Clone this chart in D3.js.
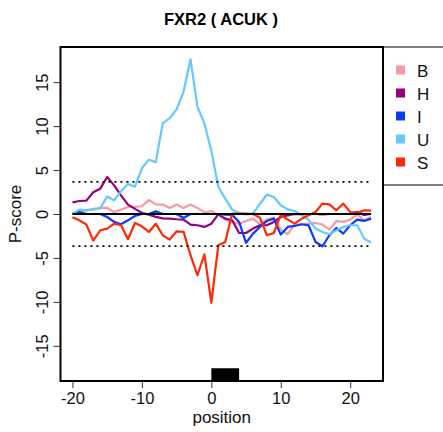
<!DOCTYPE html>
<html>
<head>
<meta charset="utf-8">
<script src="https://cdn.jsdelivr.net/npm/d3@7"></script>
<style>
  html, body { margin: 0; padding: 0; background: #fff; }
  svg { display: block; font-family: "Liberation Sans", Arial, sans-serif; }
</style>
</head>
<body>
<svg id="chart" width="443" height="432"></svg>
<script>
// Positions relative to the motif start
const positions = d3.range(-20, 24);

// P-score per group
const seriesB = [0, 0.34, 0.42, 0.5, 0.69, 0.69, 0.23, 0.5, 0.8, 0.8, 0.88, 1.6, 1.1, 1.07, 0.69, 1.07,
  0.69, 1.07, 0.69, 0.19, 0.34, -0.08, -0.6, -0.9, -1.1, -0.79, -0.53, -1.17, -0.64, -0.41, -1.78,
  -2.3, -1.17, -1.2, -1.1, -1.02, -1.2, -1.78, -0.79, -0.9, -0.64, -0.04, -0.72, -0.34];
const seriesH = [1.33, 1.48, 1.52, 2.47, 2.88, 4.21, 3.26, 2.12, 1.07, 0.58, 0.15, -0.08, -0.33, -0.5,
  -0.53, -0.6, -0.64, -1.2, -1.28, -1.47, -1.1, -0.04, -0.53, -0.72, -2.16, -2.16, -1.66, -1.28,
  -1.28, -0.9, -0.34, -0.15, 0, -0.05, 0, 0, -0.05, 0, 0, 0, 0, 0.25, -0.1, 0];
const seriesI = [0, 0.23, 0, 0, 0, -0.34, -0.9, -1.17, -0.72, -0.23, 0, 0, 0.3, 0, 0, 0, -0.45, 0, 0,
  0, 0, 0, -0.08, -0.1, -0.9, -3.29, -2.23, -1.47, -0.79, -0.53, -2.34, -1.47, -1.36, -1.17, -1.28,
  -3.18, -3.67, -2.42, -1.59, -2.23, -1.28, -0.64, -0.79, -0.53];
const seriesU = [0, 0.5, 0.42, 0.58, 0.65, 2.0, 1.56, 2.58, 3.41, 3.11, 5.2, 6.18, 5.9, 10.3, 10.9, 11.9,
  13.9, 17.6, 12.2, 10.3, 7.2, 3.1, 1.75, 0.5, 0.1, -0.04, 0.04, 1.17, 2.2, 1.94, 0.99, 0.53, 0.34,
  -0.15, -0.64, -1.66, -2.04, -2.3, -1.85, -1.47, -1.28, -1.28, -2.8, -3.25];
const seriesS = [-0.37, -0.72, -1.2, -3.03, -1.85, -1.66, -1.1, -1.28, -2.87, -1.02, -1.4, -2.04, -1.1,
  -2.42, -2.91, -1.97, -2.04, -4.69, -6.97, -4.58, -10.1, -3.56, -3.18, 0.04, 0.04, 0.04, 0, -0.41,
  -2.42, -2.16, -0.08, -0.64, -1.1, -0.53, -0.15, 0.23, 1.18, 1.1, 0.42, 1.18, 0.23, 0.15, 0.42, 0.38];

const groupNames = ["B", "H", "I", "U", "S"];
const groupColors = ["#f79aa3", "#94007e", "#0a3cf5", "#66c8ff", "#ff2a05"];

const xTicks = [-20, -10, 0, 10, 20];
const yTicks = [-15, -10, -5, 0, 5, 10, 15];
const threshold = 3.65;      // significance cut-off (±)
const motif = [0, 4];        // motif span on the position axis
const motifTop = -17.55;     // top of the motif bar in P-score units

const svg = d3.select("#chart");
const plotL = 60.5, plotR = 383, plotT = 47, plotB = 381;

const x = d3.scaleLinear().domain([-21.72, 24.72]).range([plotL, plotR]);
const y = d3.scaleLinear().domain([-19, 19]).range([plotB, plotT]);

// Title
svg.append("text")
  .attr("x", 221).attr("y", 25)
  .attr("text-anchor", "middle")
  .attr("font-size", 16.5).attr("font-weight", "bold")
  .text("FXR2 ( ACUK )");

// Legend box (extends off the right edge)
svg.append("rect")
  .attr("x", plotR).attr("y", plotT).attr("width", 90).attr("height", 138)
  .attr("fill", "none").attr("stroke", "#555").attr("stroke-width", 1.5);

const legend = svg.append("g");
groupNames.forEach((name, i) => {
  const cy = 70 + i * 23;
  legend.append("rect")
    .attr("x", 396).attr("y", cy - 4.5).attr("width", 9).attr("height", 9)
    .attr("fill", groupColors[i]);
  legend.append("text")
    .attr("x", 417).attr("y", cy + 6.5)
    .attr("font-size", 17).attr("fill", "#111")
    .text(name);
});

// Series lines
const allSeries = [seriesB, seriesH, seriesI, seriesU, seriesS];
const line = d3.line().x((d, i) => x(positions[i])).y(d => y(d));
allSeries.forEach((vals, i) => {
  svg.append("path")
    .datum(vals)
    .attr("d", line)
    .attr("fill", "none")
    .attr("stroke", groupColors[i])
    .attr("stroke-width", 2.2)
    .attr("stroke-linejoin", "round");
});

// Zero line and threshold lines
const xFirst = positions[0], xLast = positions[positions.length - 1];
svg.append("line")
  .attr("x1", x(xFirst)).attr("x2", x(xLast))
  .attr("y1", y(0)).attr("y2", y(0))
  .attr("stroke", "#000").attr("stroke-width", 2);
[threshold, -threshold].forEach(t => {
  svg.append("line")
    .attr("x1", x(xFirst)).attr("x2", x(xLast))
    .attr("y1", y(t)).attr("y2", y(t))
    .attr("stroke", "#000").attr("stroke-width", 1.8)
    .attr("stroke-dasharray", "2,4");
});

// Motif bar
svg.append("rect")
  .attr("x", x(motif[0])).attr("width", x(motif[1]) - x(motif[0]))
  .attr("y", y(motifTop)).attr("height", plotB - y(motifTop))
  .attr("fill", "#000");

// Axes
const xAxis = svg.append("g")
  .attr("transform", `translate(0,${plotB})`)
  .call(d3.axisBottom(x).tickValues(xTicks).tickSize(7).tickPadding(4).tickFormat(d3.format("d")));
xAxis.select(".domain").remove();
xAxis.selectAll(".tick line").attr("stroke", "#333");
xAxis.selectAll(".tick text")
  .attr("font-size", 16.5).attr("fill", "#111")
  .attr("font-family", "'Liberation Sans', Arial, sans-serif")
  .text(d => d < 0 ? "-" + Math.abs(d) : d);

const yAxis = svg.append("g")
  .attr("transform", `translate(${plotL},0)`)
  .call(d3.axisLeft(y).tickValues(yTicks).tickSize(7).tickFormat(d3.format("d")));
yAxis.select(".domain").remove();
yAxis.selectAll(".tick line").attr("stroke", "#333");
yAxis.selectAll(".tick text")
  .attr("font-size", 16.5).attr("fill", "#111")
  .attr("font-family", "'Liberation Sans', Arial, sans-serif")
  .attr("text-anchor", "middle")
  .attr("x", 0).attr("dy", 0)
  .attr("transform", "translate(-12.5,0) rotate(-90)")
  .text(d => d < 0 ? "-" + Math.abs(d) : d);

// Plot frame
svg.append("rect")
  .attr("x", plotL).attr("y", plotT).attr("width", plotR - plotL).attr("height", plotB - plotT)
  .attr("fill", "none").attr("stroke", "#000").attr("stroke-width", 2);

// Axis titles
svg.append("text")
  .attr("x", (plotL + plotR) / 2).attr("y", 423)
  .attr("text-anchor", "middle").attr("font-size", 17).attr("fill", "#111")
  .text("position");
svg.append("text")
  .attr("transform", `translate(21,${(plotT + plotB) / 2}) rotate(-90)`)
  .attr("text-anchor", "middle").attr("font-size", 17).attr("fill", "#111")
  .text("P-score");
</script>
</body>
</html>
